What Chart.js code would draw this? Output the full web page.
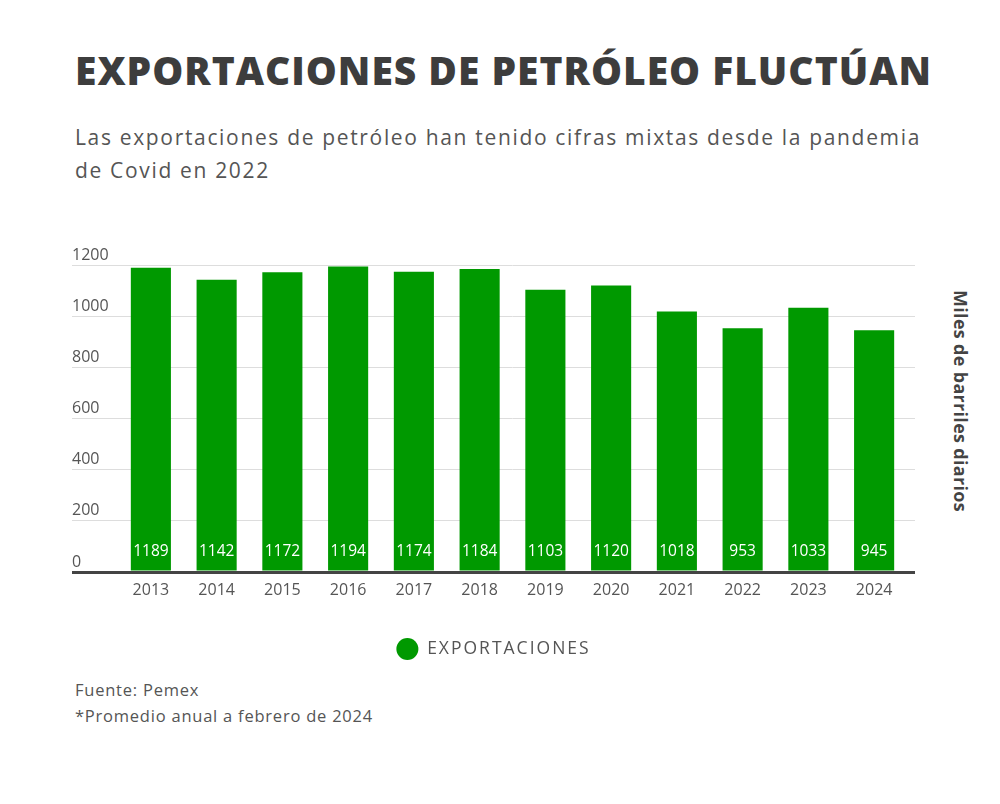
<!DOCTYPE html>
<html>
<head>
<meta charset="utf-8">
<script src="https://cdn.jsdelivr.net/npm/chart.js@4.4.1/dist/chart.umd.min.js"></script>
<style>
  html, body { margin: 0; padding: 0; background: #ffffff; }
  body { width: 1000px; height: 804px; position: relative; overflow: hidden; font-family: "Open Sans", "DejaVu Sans", sans-serif; }
  #title { position: absolute; left: 75px; top: 47px; margin: 0; font-size: 39px; line-height: 46px; font-weight: 800; color: #3d3d3d; white-space: nowrap; }
  #subtitle { position: absolute; left: 75px; top: 121px; font-size: 21px; line-height: 33px; color: #555555; }
  #subtitle div { white-space: nowrap; }
  #footer { position: absolute; left: 75px; top: 677px; font-size: 16.5px; line-height: 26px; color: #555555; z-index: 2; }
  #footer div { white-space: nowrap; }
  #ytitle { position: absolute; left: 961px; top: 401px; transform: translate(-50%, -50%); writing-mode: vertical-rl; font-size: 18px; font-weight: 700; color: #444444; white-space: nowrap; }
  #wrap { position: absolute; left: 0; top: 230px; width: 1000px; height: 440px; }
</style>
</head>
<body>
<div id="title">EXPORTACIONES DE PETRÓLEO FLUCTÚAN</div>
<div id="subtitle">
  <div id="sub1">Las exportaciones de petróleo han tenido cifras mixtas desde la pandemia</div>
  <div id="sub2">de Covid en 2022</div>
</div>
<div id="ytitle">Miles de barriles diarios</div>
<div id="wrap"><canvas id="c"></canvas></div>
<div id="footer">
  <div id="foot1">Fuente: Pemex</div>
  <div id="foot2">*Promedio anual a febrero de 2024</div>
</div>
<script>
// ---- data ----
const years = ['2013','2014','2015','2016','2017','2018','2019','2020','2021','2022','2023','2024'];
const exportaciones = [1189, 1142, 1172, 1194, 1174, 1184, 1103, 1120, 1018, 953, 1033, 945];
const seriesName = 'EXPORTACIONES';
const yTicks = [0, 200, 400, 600, 800, 1000, 1200];

// fit text widths to the reference by letter spacing
function fitSpacing(el, target, horizontal = true) {
  const r = el.getBoundingClientRect();
  const w = horizontal ? r.width : r.height;
  return (target - w) / el.textContent.length;
}
const t = document.getElementById('title');
t.style.letterSpacing = fitSpacing(t, 857) + 'px';
document.getElementById('subtitle').style.letterSpacing = fitSpacing(document.getElementById('sub1'), 846) + 'px';
document.getElementById('footer').style.letterSpacing = fitSpacing(document.getElementById('foot2'), 298) + 'px';
const yt = document.getElementById('ytitle');
yt.style.letterSpacing = fitSpacing(yt, 222, false) + 'px';

const GREEN = '#009900';
const GRID = '#dddddd';
const AXIS = '#444444';
const TICK_FONT = { family: '"Open Sans", sans-serif', size: 16, lineHeight: 1.25 };
const LEGEND_SPACING = '2px';

const gridColor = ctx => (ctx.tick && ctx.tick.value === 0) ? AXIS : GRID;
const gridWidth = ctx => (ctx.tick && ctx.tick.value === 0) ? 3 : 1;

const barLabels = {
  id: 'barLabels',
  afterDatasetsDraw(chart) {
    const ctx = chart.ctx;
    const meta = chart.getDatasetMeta(0);
    const data = chart.data.datasets[0].data;
    ctx.save();
    ctx.font = '15.5px "Open Sans", sans-serif';
    ctx.fillStyle = '#ffffff';
    ctx.textAlign = 'center';
    ctx.textBaseline = 'middle';
    meta.data.forEach((bar, i) => {
      ctx.fillText(String(data[i]), bar.x, bar.base - 19);
    });
    ctx.restore();
  }
};

// wider legend lettering (reference font is a wide geometric sans)
const legendSpacing = {
  id: 'legendSpacing',
  beforeLayout(chart) {
    const lg = chart.legend;
    if (!lg || lg._spaced) return;
    const wrap = fn => function () {
      const ctx = this.ctx;
      const prev = ctx.letterSpacing;
      ctx.letterSpacing = LEGEND_SPACING;
      const r = fn.apply(this, arguments);
      ctx.letterSpacing = prev;
      return r;
    };
    lg.fit = wrap(lg.fit);
    lg._draw = wrap(lg._draw);
    lg._spaced = true;
  }
};

new Chart(document.getElementById('c'), {
  type: 'bar',
  data: {
    labels: years,
    datasets: [{
      label: seriesName,
      data: exportaciones,
      backgroundColor: GREEN,
      borderWidth: 0,
      barPercentage: 0.61,
      categoryPercentage: 1.0,
      yAxisID: 'y'
    }]
  },
  options: {
    responsive: true,
    maintainAspectRatio: false,
    animation: false,
    layout: { padding: { left: 72, right: 85, top: 35, bottom: 0 } },
    plugins: {
      tooltip: { enabled: false },
      legend: {
        position: 'bottom',
        labels: {
          usePointStyle: false,
          useBorderRadius: true,
          borderRadius: 11,
          boxWidth: 22,
          boxHeight: 22,
          padding: 30,
          color: '#555555',
          font: { family: '"Open Sans", sans-serif', size: 17.5 }
        }
      }
    },
    scales: {
      x: {
        z: 1,
        grid: { display: false, drawTicks: false },
        border: { display: true, color: AXIS, width: 3 },
        ticks: { color: '#555555', font: TICK_FONT, padding: 8 }
      },
      y: {
        min: 0, max: 1200,
        afterBuildTicks(scale) { scale.ticks = yTicks.map(v => ({ value: v })); },
        afterFit(scale) { scale.width = 46; },
        border: { display: false },
        grid: { color: gridColor, lineWidth: gridWidth, drawTicks: true, tickLength: 46 },
        ticks: {
          color: '#555555', font: TICK_FONT, crossAlign: 'far',
          callback: v => [String(v), '']
        }
      },
      yR: {
        position: 'right',
        min: 0, max: 1200,
        afterBuildTicks(scale) { scale.ticks = yTicks.map(v => ({ value: v })); },
        afterFit(scale) { scale.width = 8; },
        border: { display: false },
        grid: { color: gridColor, lineWidth: gridWidth, drawOnChartArea: false, drawTicks: true, tickLength: 8 },
        ticks: { display: false }
      }
    }
  },
  plugins: [legendSpacing, barLabels]
});
</script>
</body>
</html>
